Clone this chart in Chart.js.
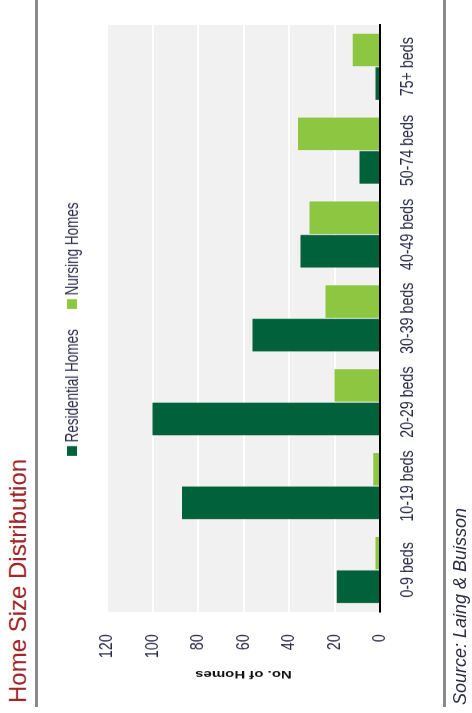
<!DOCTYPE html>
<html>
<head>
<meta charset="utf-8">
<script src="https://cdn.jsdelivr.net/npm/chart.js@4.4.1/dist/chart.umd.min.js"></script>
<style>
    html, body { margin: 0; padding: 0; background: #fff; overflow: hidden; width: 472px; height: 713px; }
    #page {
        position: absolute; left: 0; top: 0; width: 713px; height: 472px;
        transform-origin: 0 0; transform: translate(0, 713px) rotate(-90deg);
        font-family: 'Liberation Sans', Arial, sans-serif;
    }
    .titre { position: absolute; left: 10px; top: 5px; font-size: 24px; line-height: 26px; color: #a3262a; white-space: nowrap; }
    .regle { position: absolute; left: 6px; width: 707px; height: 3px; background: #8a8a8a; }
    .source { position: absolute; left: 8px; top: 449px; font-size: 18px; line-height: 22px; font-style: italic; color: #2b2b4a; white-space: nowrap; }
    #squash { position: absolute; left: 0; top: 0; width: 951px; height: 472px; transform-origin: 0 0; transform: scaleX(0.7497); }
    #legende { position: absolute; left: 343px; top: 62px; height: 20px; display: flex; align-items: center; font-size: 18px; color: #2b2b4a; white-space: nowrap; }
    #legende .carre { width: 13px; height: 10px; margin-right: 5px; }
    #legende .item { display: flex; align-items: center; margin-right: 27px; }
</style>
</head>
<body>
<div id="page">
    <div class="titre">Home Size Distribution</div>
    <div class="regle" style="top: 35px;"></div>
    <div id="squash">
        <canvas id="GraphiqueTaille" width="951" height="472"></canvas>
        <div id="legende"></div>
    </div>
    <div class="regle" style="top: 443px;"></div>
    <div class="source">Source: Laing &amp; Buisson</div>
</div>
<script>
var categories = ['0-9 beds', '10-19 beds', '20-29 beds', '30-39 beds', '40-49 beds', '50-74 beds', '75+ beds'];
var residentialHomes = [19, 87, 100, 56, 35, 9, 2];
var nursingHomes = [2, 3, 20, 24, 31, 36, 12];
var valueTicks = [0, 20, 40, 60, 80, 100, 120];
var seriesNames = ['Residential Homes', 'Nursing Homes'];
var couleurs = ['#00613a', '#8dc641'];

Chart.defaults.font.family = "'Liberation Sans', Arial, sans-serif";

// fond gris de la zone du graphique
var fondZone = {
    id: 'fondZone',
    beforeDraw: function (chart) {
        var a = chart.chartArea;
        chart.ctx.save();
        chart.ctx.fillStyle = '#f1f1f1';
        chart.ctx.fillRect(a.left, a.top, a.right - a.left, a.bottom - a.top);
        chart.ctx.restore();
    }
};

var ctx = document.getElementById('GraphiqueTaille').getContext('2d');

var graphique = new Chart(ctx, {
    type: 'bar',
    data: {
        labels: categories,
        datasets: [
            {
                label: seriesNames[0],
                backgroundColor: couleurs[0],
                data: residentialHomes,
                categoryPercentage: 0.8,
                barPercentage: 0.97
            },
            {
                label: seriesNames[1],
                backgroundColor: couleurs[1],
                data: nursingHomes,
                categoryPercentage: 0.8,
                barPercentage: 0.97
            }
        ]
    },
    options: {
        responsive: false,
        animation: false,
        devicePixelRatio: 1,
        layout: { padding: { top: 107, right: 33, bottom: 0, left: 0 } },
        plugins: {
            legend: { display: false },
            tooltip: { enabled: false }
        },
        scales: {
            x: {
                grid: { display: false, drawTicks: false },
                border: { display: true, color: '#000', width: 2 },
                ticks: { color: '#2b2b4a', font: { size: 19 }, padding: 16, maxRotation: 0, autoSkip: false },
                afterFit: function (scale) { scale.height = 92; }
            },
            y: {
                min: 0,
                max: 120,
                grid: { color: '#ffffff', lineWidth: 2, drawTicks: false },
                border: { display: false },
                ticks: { color: '#2b2b4a', font: { size: 19 }, padding: 30 },
                afterBuildTicks: function (scale) {
                    scale.ticks = valueTicks.map(function (v) { return { value: v }; });
                },
                afterFit: function (scale) { scale.width = 135; },
                title: {
                    display: true,
                    text: 'No. of Homes',
                    color: '#111',
                    font: { size: 15, weight: 'bold' },
                    padding: { top: 43, bottom: 0 }
                }
            }
        }
    },
    plugins: [fondZone]
});

// légende faite à la main
var legende = document.getElementById('legende');
graphique.data.datasets.forEach(function (ds) {
    var item = document.createElement('div');
    item.className = 'item';
    item.innerHTML = '<div class="carre" style="background:' + ds.backgroundColor + '"></div><span>' + ds.label + '</span>';
    legende.appendChild(item);
});
</script>
</body>
</html>
